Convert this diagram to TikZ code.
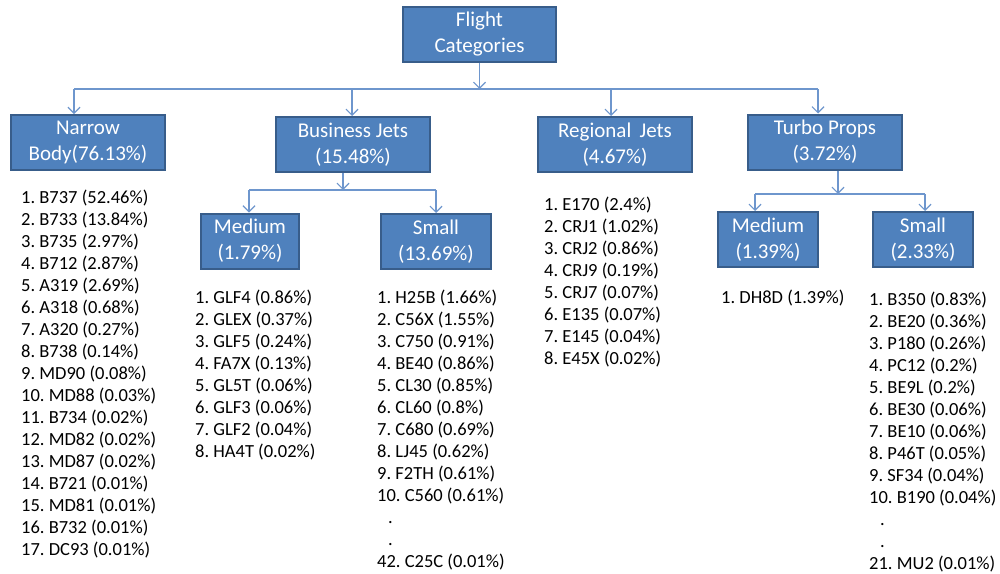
\documentclass[tikz,border=0pt]{standalone}
\usepackage{fontspec}
\setmainfont{Carlito}
\usetikzlibrary{arrows.meta}
\definecolor{boxblue}{RGB}{79,129,189}
\definecolor{boxedge}{RGB}{56,93,138}
\definecolor{linkblue}{RGB}{110,150,205}
\frenchspacing

\begin{document}
\begin{tikzpicture}[x=1pt, y=-1pt,
    catbox/.style={draw=boxedge, line width=2pt, fill=boxblue, text=white, align=center,
        inner sep=0pt, minimum height=55pt, font=\fontsize{21}{26}\selectfont},
    itemlist/.style={anchor=base west, align=left, inner sep=0pt, text=black,
        font=\fontsize{18.5}{22}\selectfont},
    bus/.style={draw=linkblue, line width=1.2pt},
    link/.style={bus, -{Straight Barb[length=6pt, width=12pt, line width=1.2pt]}}]

    \useasboundingbox (0,0) rectangle (1000,573);

    \pgfmathsetmacro{\busRow}{89}
    \pgfmathsetmacro{\subRowBJ}{190}
    \pgfmathsetmacro{\subRowTP}{194}

    % top box
    \node[catbox, minimum width=153pt] (fc) at (479.5,34.5) {Flight\\Categories};

    % first layer of categories
    \node[catbox, minimum width=154pt] (nb) at (88,142.5) {Narrow\\Body(76.13\%)};
    \node[catbox, minimum width=154pt] (bj) at (353,144.5) {Business Jets\\(15.48\%)};
    \node[catbox, minimum width=154pt] (rj) at (615,144.5) {Regional\, Jets\\(4.67\%)};
    \node[catbox, minimum width=154pt] (tp) at (825,142) {Turbo Props\\(3.72\%)};

    % second layer below business jets and turbo props
    \node[catbox, minimum width=98pt] (bjMed) at (250,241) {Medium\\(1.79\%)};
    \node[catbox, minimum width=110pt] (bjSmall) at (436,241.5) {Small\\(13.69\%)};
    \node[catbox, minimum width=100pt] (tpMed) at (768,239.5) {Medium\\(1.39\%)};
    \node[catbox, minimum width=100pt] (tpSmall) at (923,239.5) {Small\\(2.33\%)};

    % drop points on the bus lines
    \coordinate (dNB) at (74,\busRow);
    \coordinate (dBJ) at (352,\busRow);
    \coordinate (dRJ) at (611,\busRow);
    \coordinate (dTP) at (818,\busRow);
    \coordinate (sBJ) at (343,\subRowBJ);
    \coordinate (dBJMed) at (249,\subRowBJ);
    \coordinate (dBJSmall) at (436,\subRowBJ);
    \coordinate (sTP) at (838,\subRowTP);
    \coordinate (dTPMed) at (755,\subRowTP);
    \coordinate (dTPSmall) at (925,\subRowTP);

    % connect top box to all categories
    \draw[link] (fc.south) -- (fc.south |- dNB);
    \draw[bus] (dNB) -- (dTP);
    \foreach \d/\n in {dNB/nb, dBJ/bj, dRJ/rj, dTP/tp}
    \draw[link] (\d) -- (\d |- \n.north);

    % business jets split
    \draw[link] (sBJ |- bj.south) -- (sBJ);
    \draw[bus] (dBJMed) -- (dBJSmall);
    \foreach \d/\n in {dBJMed/bjMed, dBJSmall/bjSmall}
    \draw[link] (\d) -- (\d |- \n.north);

    % turbo props split
    \draw[link] (sTP |- tp.south) -- (sTP);
    \draw[bus] (dTPMed) -- (dTPSmall);
    \foreach \d/\n in {dTPMed/tpMed, dTPSmall/tpSmall}
    \draw[link] (\d) -- (\d |- \n.north);

    % aircraft type lists, placed by the baseline of their last line
    \node[itemlist] (nbList) at (21,555) {1. B737 (52.46\%)\\2. B733 (13.84\%)\\3. B735 (2.97\%)\\4. B712 (2.87\%)\\5. A319 (2.69\%)\\6. A318 (0.68\%)\\7. A320 (0.27\%)\\8. B738 (0.14\%)\\9. MD90 (0.08\%)\\10. MD88 (0.03\%)\\11. B734 (0.02\%)\\12. MD82 (0.02\%)\\13. MD87 (0.02\%)\\14. B721 (0.01\%)\\15. MD81 (0.01\%)\\16. B732 (0.01\%)\\17. DC93 (0.01\%)};

    \node[itemlist] (bjMedList) at (195,457) {1. GLF4 (0.86\%)\\2. GLEX (0.37\%)\\3. GLF5 (0.24\%)\\4. FA7X (0.13\%)\\5. GL5T (0.06\%)\\6. GLF3 (0.06\%)\\7. GLF2 (0.04\%)\\8. HA4T (0.02\%)};

    \node[itemlist] (bjSmallList) at (377,567) {1. H25B (1.66\%)\\2. C56X (1.55\%)\\3. C750 (0.91\%)\\4. BE40 (0.86\%)\\5. CL30 (0.85\%)\\6. CL60 (0.8\%)\\7. C680 (0.69\%)\\8. LJ45 (0.62\%)\\9. F2TH (0.61\%)\\10. C560 (0.61\%)\\\hspace*{11pt}.\\\hspace*{11pt}.\\42. C25C (0.01\%)};

    \node[itemlist] (rjList) at (544,364) {1. E170 (2.4\%)\\2. CRJ1 (1.02\%)\\3. CRJ2 (0.86\%)\\4. CRJ9 (0.19\%)\\5. CRJ7 (0.07\%)\\6. E135 (0.07\%)\\7. E145 (0.04\%)\\8. E45X (0.02\%)};

    \node[itemlist] (tpMedList) at (721,303) {1. DH8D (1.39\%)};

    \node[itemlist] (tpSmallList) at (869,569) {1. B350 (0.83\%)\\2. BE20 (0.36\%)\\3. P180 (0.26\%)\\4. PC12 (0.2\%)\\5. BE9L (0.2\%)\\6. BE30 (0.06\%)\\7. BE10 (0.06\%)\\8. P46T (0.05\%)\\9. SF34 (0.04\%)\\10. B190 (0.04\%)\\\hspace*{11pt}.\\\hspace*{11pt}.\\21. MU2 (0.01\%)};

\end{tikzpicture}
\end{document}
